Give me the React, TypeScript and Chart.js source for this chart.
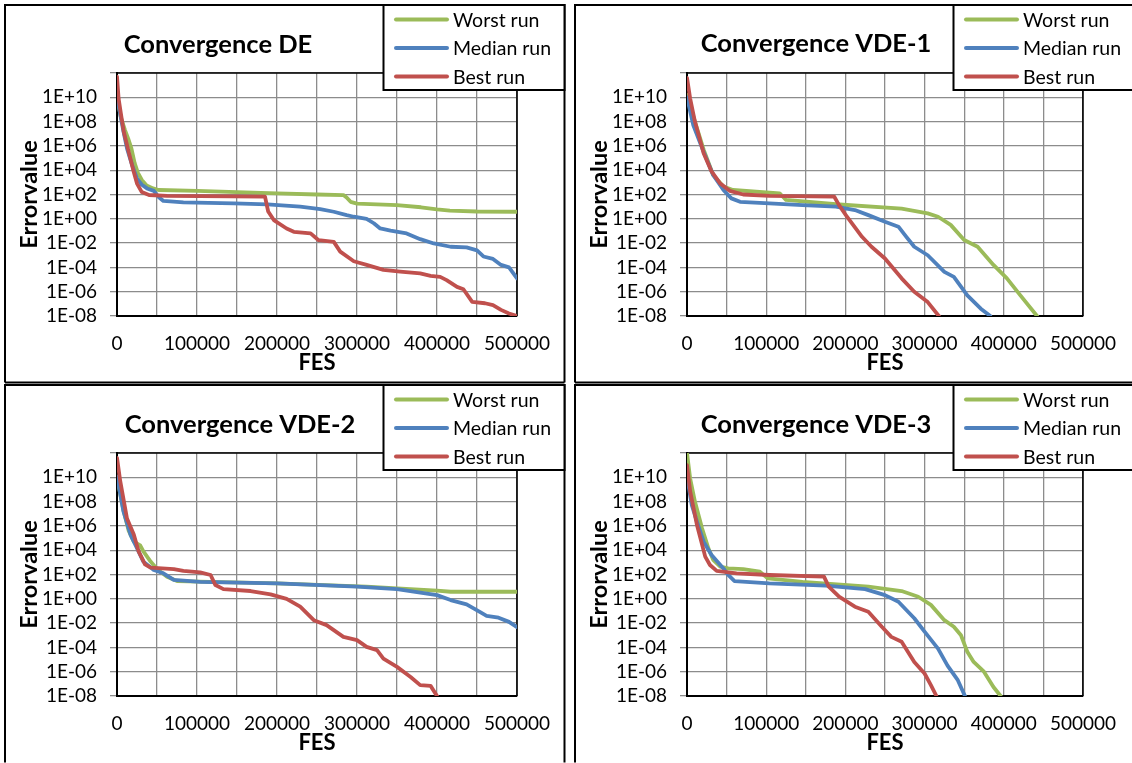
import React, { useEffect, useRef } from 'react';
import { Chart, registerables } from 'chart.js';

Chart.register(...registerables);

// ---------- labels & ticks ----------
const SERIES_LABELS = ['Worst run', 'Median run', 'Best run'];
const SERIES_COLORS = ['#9BBB59', '#4F81BD', '#C0504D'];
const X_TICK_VALUES = [0, 50000, 100000, 150000, 200000, 250000, 300000, 350000, 400000, 450000, 500000];
const X_TICK_LABELS = ['0', '', '100000', '', '200000', '', '300000', '', '400000', '', '500000'];
const Y_TICK_VALUES = [1e-8, 1e-6, 1e-4, 1e-2, 1, 1e2, 1e4, 1e6, 1e8, 1e10, 1e12];
const Y_TICK_LABELS = ['1E-08', '1E-06', '1E-04', '1E-02', '1E+00', '1E+02', '1E+04', '1E+06', '1E+08', '1E+10', ''];
const X_TITLE = 'FES';
const Y_TITLE = 'Errorvalue';

// ---------- Convergence DE ----------
const DE_WORST_FES = [0, 5000, 10000, 14000, 18000, 22000, 26000, 31000, 37000, 45000, 52000, 100000, 150000, 200000, 250000, 283000, 287000, 292000, 300000, 350000, 380000, 400000, 416000, 450000, 500000];
const DE_WORST_ERR = [1e10, 2e8, 2e7, 4e6, 6.3e5, 4e4, 6.3e3, 1.6e3, 560, 316, 234, 200, 158, 126, 100, 89, 56, 25, 17.8, 13.5, 8.9, 6.0, 4.7, 4.0, 3.8];
const DE_MEDIAN_FES = [0, 4000, 8000, 12500, 19000, 25000, 31000, 37500, 46000, 52000, 58000, 83000, 146000, 188000, 229000, 254000, 271000, 287000, 296000, 312000, 321000, 329000, 342000, 362000, 379000, 396000, 417000, 437000, 450000, 458000, 470000, 480000, 490000, 500000];
const DE_MEDIAN_ERR = [1.26e10, 4e8, 1.6e7, 6.3e5, 2.5e4, 2e3, 630, 316, 200, 63, 29.5, 22.4, 18.6, 15.5, 10, 6.3, 3.8, 2.0, 1.48, 1.0, 0.43, 0.16, 0.105, 0.063, 0.021, 0.0093, 0.005, 0.0044, 0.0025, 7.9e-4, 5e-4, 1.6e-4, 1e-4, 1.26e-5];
const DE_BEST_FES = [0, 2000, 5000, 8300, 14600, 20800, 25000, 31000, 40000, 62500, 185000, 189000, 196000, 212000, 221000, 242000, 252000, 271000, 279000, 296000, 312000, 333000, 354000, 379000, 392000, 404000, 412000, 425000, 433000, 444000, 460000, 470000, 480000, 490000, 500000];
const DE_BEST_ERR = [5e11, 7.9e9, 4e8, 1.6e7, 3.2e5, 7.9e3, 790, 158, 91, 76, 66, 4.0, 0.79, 0.158, 0.085, 0.063, 0.0174, 0.0126, 2e-3, 3.2e-4, 1.6e-4, 6.3e-5, 4.5e-5, 3.2e-5, 2e-5, 1.66e-5, 8.9e-6, 2.5e-6, 1.6e-6, 1.45e-7, 1.12e-7, 7.9e-8, 3.2e-8, 1.6e-8, 1e-8];

// ---------- Convergence VDE-1 ----------
const V1_WORST_FES = [0, 10000, 21000, 33000, 46000, 58000, 117000, 125000, 188000, 271000, 304000, 317000, 333000, 350000, 367000, 387000, 404000, 421000, 442000];
const V1_WORST_ERR = [1.6e10, 1e8, 5e5, 4e3, 447, 234, 126, 35.5, 15.8, 6.8, 2.8, 1.48, 0.316, 0.0178, 0.005, 1.6e-4, 1.26e-5, 5e-7, 1e-8];
const V1_MEDIAN_FES = [0, 8000, 21000, 33000, 46000, 56000, 67000, 104000, 146000, 188000, 212000, 229000, 250000, 267000, 277000, 287000, 304000, 325000, 337000, 354000, 371000, 383000];
const V1_MEDIAN_ERR = [1e10, 5e7, 3.2e5, 4e3, 234, 48, 25, 18.6, 13.5, 10, 5.25, 2.0, 0.575, 0.224, 0.033, 0.005, 1e-3, 4.3e-5, 1.66e-5, 5e-7, 4e-8, 1e-8];
const V1_BEST_FES = [0, 4000, 10000, 21000, 31000, 42000, 54000, 71000, 104000, 186000, 192000, 202000, 221000, 233000, 250000, 271000, 287000, 304000, 318000];
const V1_BEST_ERR = [4e11, 7.9e9, 1e8, 2.5e5, 7.9e3, 790, 200, 100, 76, 66, 13.5, 1.48, 0.033, 0.005, 5.4e-4, 1.26e-5, 1e-6, 1.4e-7, 1e-8];

// ---------- Convergence VDE-2 ----------
const V2_WORST_FES = [0, 8000, 14600, 21000, 29000, 33000, 42000, 50000, 62500, 75000, 200000, 312000, 400000, 417000, 500000];
const V2_WORST_ERR = [1e10, 2e7, 4e5, 5e4, 2.5e4, 7.9e3, 1.15e3, 282, 66, 29, 18.6, 10, 4.7, 3.8, 3.8];
const V2_MEDIAN_FES = [0, 8000, 17000, 25000, 33000, 46000, 58000, 71000, 104000, 200000, 300000, 350000, 400000, 417000, 437000, 454000, 462000, 477000, 490000, 500000];
const V2_MEDIAN_ERR = [1.2e10, 1.6e7, 1.8e5, 1.45e4, 1.15e3, 234, 126, 35.5, 25, 18.6, 10, 6.3, 2.0, 0.79, 0.35, 0.079, 0.04, 0.028, 0.0126, 4.7e-3];
const V2_BEST_FES = [0, 4000, 12500, 21000, 27000, 35000, 42000, 71000, 83000, 104000, 117000, 123000, 133000, 167000, 192000, 212000, 229000, 246000, 262000, 283000, 300000, 312000, 325000, 333000, 350000, 367000, 379000, 392000, 400000];
const V2_BEST_ERR = [4e11, 5e9, 4e6, 2e5, 7.9e3, 692, 363, 282, 200, 151, 91, 13.5, 6.3, 4.37, 2.29, 1.0, 0.224, 0.0174, 6.8e-3, 7.4e-4, 4e-4, 1.1e-4, 5.9e-5, 1.2e-5, 2.5e-6, 3.7e-7, 7.9e-8, 6.8e-8, 1e-8];

// ---------- Convergence VDE-3 ----------
const V3_WORST_FES = [0, 4000, 10000, 19000, 27000, 33000, 42000, 52000, 71000, 92000, 102000, 146000, 229000, 271000, 292000, 308000, 325000, 337000, 346000, 354000, 362000, 375000, 387000, 396000];
const V3_WORST_ERR = [1e12, 7.9e9, 1e8, 6.3e5, 1.45e4, 1.6e3, 447, 316, 282, 170, 48, 25, 10, 4.37, 1.48, 0.316, 0.0174, 0.005, 1e-3, 4.3e-5, 6.3e-6, 1e-6, 5.5e-8, 1e-8];
const V3_MEDIAN_FES = [0, 6000, 12500, 21000, 31000, 46000, 52000, 60000, 104000, 175000, 225000, 250000, 267000, 287000, 300000, 317000, 329000, 342000, 351000];
const V3_MEDIAN_ERR = [1.2e10, 5.4e7, 2.3e6, 5e4, 4e3, 316, 91, 29, 18.6, 12, 6.3, 2.0, 0.575, 0.025, 2e-3, 7.9e-5, 3.2e-6, 2e-7, 1e-8];
const V3_BEST_FES = [0, 4000, 12500, 23000, 29000, 37500, 62500, 104000, 173000, 179000, 192000, 212000, 229000, 246000, 258000, 271000, 287000, 300000, 308000, 315000];
const V3_BEST_ERR = [1e11, 6.9e8, 1.26e6, 2.95e3, 603, 200, 126, 91, 66, 10, 1.48, 0.224, 0.085, 5e-3, 7.4e-4, 2.9e-4, 6.3e-6, 7.1e-7, 7.9e-8, 1e-8];

// ---------- layout (positions / styles only) ----------
const FONT = 'Lato, "Open Sans", "DejaVu Sans", sans-serif';
const CANVAS_H = 384;
const PLOT_LEFT = 117;
const PLOT_TOP = 73;
const PLOT_RIGHT = 517;
const PLOT_BOTTOM = 316;

type Series = { fes: number[]; err: number[] };
type PanelDef = {
  title: string;
  left: number;
  top: number;
  width: number;
  titleX: number;
  titleY: number;
  rightBorder: boolean;
  bottomBorder: boolean;
  series: Series[];
};

const PANELS: PanelDef[] = [
  {
    title: 'Convergence DE', left: 0, top: 0, width: 570, titleX: 218, titleY: 45, rightBorder: true, bottomBorder: true,
    series: [
      { fes: DE_WORST_FES, err: DE_WORST_ERR },
      { fes: DE_MEDIAN_FES, err: DE_MEDIAN_ERR },
      { fes: DE_BEST_FES, err: DE_BEST_ERR },
    ],
  },
  {
    title: 'Convergence VDE-1', left: 570, top: 0, width: 562, titleX: 246, titleY: 44, rightBorder: false, bottomBorder: true,
    series: [
      { fes: V1_WORST_FES, err: V1_WORST_ERR },
      { fes: V1_MEDIAN_FES, err: V1_MEDIAN_ERR },
      { fes: V1_BEST_FES, err: V1_BEST_ERR },
    ],
  },
  {
    title: 'Convergence VDE-2', left: 0, top: 380, width: 570, titleX: 240, titleY: 45, rightBorder: true, bottomBorder: false,
    series: [
      { fes: V2_WORST_FES, err: V2_WORST_ERR },
      { fes: V2_MEDIAN_FES, err: V2_MEDIAN_ERR },
      { fes: V2_BEST_FES, err: V2_BEST_ERR },
    ],
  },
  {
    title: 'Convergence VDE-3', left: 570, top: 380, width: 562, titleX: 246, titleY: 45, rightBorder: false, bottomBorder: false,
    series: [
      { fes: V3_WORST_FES, err: V3_WORST_ERR },
      { fes: V3_MEDIAN_FES, err: V3_MEDIAN_ERR },
      { fes: V3_BEST_FES, err: V3_BEST_ERR },
    ],
  },
];

function decorPlugin(p: PanelDef) {
  return {
    id: 'decor',
    beforeDraw(chart: any) {
      const ctx = chart.ctx as CanvasRenderingContext2D;
      ctx.save();
      ctx.strokeStyle = '#000';
      ctx.lineWidth = 2;
      ctx.beginPath();
      ctx.moveTo(5, 382.5);
      ctx.lineTo(5, 5);
      ctx.lineTo(564.5, 5);
      if (p.rightBorder) ctx.lineTo(564.5, 382.5);
      ctx.stroke();
      if (p.bottomBorder) {
        ctx.beginPath();
        ctx.moveTo(5, 382.5);
        ctx.lineTo(564.5, 382.5);
        ctx.stroke();
      }
      ctx.restore();
    },
    beforeDatasetsDraw(chart: any) {
      const ctx = chart.ctx as CanvasRenderingContext2D;
      const a = chart.chartArea;
      ctx.save();
      ctx.strokeStyle = '#000';
      ctx.lineWidth = 1.6;
      ctx.beginPath();
      ctx.moveTo(a.left, a.top);
      ctx.lineTo(a.right, a.top);
      ctx.lineTo(a.right, a.bottom);
      ctx.stroke();
      ctx.restore();
    },
    afterDraw(chart: any) {
      const ctx = chart.ctx as CanvasRenderingContext2D;
      ctx.save();
      // title
      ctx.fillStyle = '#000';
      ctx.font = `bold 25.5px ${FONT}`;
      ctx.textAlign = 'center';
      ctx.textBaseline = 'middle';
      ctx.fillText(p.title, p.titleX, p.titleY);
      // legend box
      ctx.fillStyle = '#fff';
      ctx.fillRect(383.5, 5, 181, 85);
      ctx.strokeStyle = '#000';
      ctx.lineWidth = 2;
      ctx.strokeRect(383.5, 5, 181, 85);
      const ys = [19.5, 48, 76.5];
      chart.data.datasets.forEach((ds: any, i: number) => {
        const y = ys[i];
        ctx.strokeStyle = ds.borderColor;
        ctx.lineWidth = 4;
        ctx.lineCap = 'round';
        ctx.beginPath();
        ctx.moveTo(396, y);
        ctx.lineTo(447, y);
        ctx.stroke();
        ctx.fillStyle = '#000';
        ctx.font = `19.5px ${FONT}`;
        ctx.textAlign = 'left';
        ctx.textBaseline = 'middle';
        ctx.fillText(ds.label, 453, y + 1);
      });
      ctx.restore();
    },
  };
}

function Panel({ p }: { p: PanelDef }) {
  const ref = useRef<HTMLCanvasElement>(null);
  useEffect(() => {
    const canvas = ref.current;
    if (!canvas) return;
    const datasets = p.series.map((s, i) => ({
      label: SERIES_LABELS[i],
      data: s.fes.map((x, k) => ({ x, y: s.err[k] })),
      borderColor: SERIES_COLORS[i],
      backgroundColor: SERIES_COLORS[i],
      borderWidth: 3.8,
      pointRadius: 0,
      tension: 0,
      borderJoinStyle: 'round' as const,
      borderCapStyle: 'round' as const,
      order: 3 - i,
    }));
    const chart = new Chart(canvas, {
      type: 'line',
      data: { datasets },
      options: {
        animation: false,
        responsive: false,
        devicePixelRatio: 1,
        layout: { padding: { left: 0, top: PLOT_TOP, right: p.width - PLOT_RIGHT, bottom: 0 } },
        plugins: { legend: { display: false }, title: { display: false }, tooltip: { enabled: false } },
        scales: {
          x: {
            type: 'linear',
            min: 0,
            max: 500000,
            afterFit: (s: any) => { s.height = CANVAS_H - PLOT_BOTTOM; },
            afterBuildTicks: (s: any) => { s.ticks = X_TICK_VALUES.map((v) => ({ value: v })); },
            ticks: {
              autoSkip: false,
              maxRotation: 0,
              padding: 16,
              color: '#000',
              font: { family: FONT, size: 19 },
              callback: (_v: any, i: number) => X_TICK_LABELS[i],
            },
            grid: { color: '#8c8c8c', lineWidth: 1.3, drawTicks: false },
            border: { display: true, color: '#000', width: 2 },
            title: {
              display: true,
              text: X_TITLE,
              color: '#000',
              font: { family: FONT, size: 22, weight: 'bold' },
              padding: { top: 0, bottom: 8 },
            },
          },
          y: {
            type: 'logarithmic',
            min: 1e-8,
            max: 1e12,
            afterFit: (s: any) => { s.width = PLOT_LEFT; },
            afterBuildTicks: (s: any) => { s.ticks = Y_TICK_VALUES.map((v) => ({ value: v })); },
            ticks: {
              autoSkip: false,
              padding: 13,
              color: '#000',
              font: { family: FONT, size: 19 },
              callback: (_v: any, i: number) => Y_TICK_LABELS[i],
            },
            grid: { color: '#8c8c8c', lineWidth: 1.3, drawTicks: true, tickLength: 7 },
            border: { display: true, color: '#000', width: 2 },
            title: {
              display: true,
              text: Y_TITLE,
              color: '#000',
              font: { family: FONT, size: 23.5, weight: 'bold' },
              padding: { top: 15, bottom: 0 },
            },
          },
        },
      } as any,
      plugins: [decorPlugin(p)],
    });
    return () => chart.destroy();
  }, [p]);
  return (
    <canvas
      ref={ref}
      width={p.width}
      height={CANVAS_H}
      style={{ position: 'absolute', left: p.left, top: p.top, width: p.width, height: CANVAS_H, display: 'block' }}
    />
  );
}

export default function App() {
  return (
    <div style={{ position: 'fixed', left: 0, top: 0, width: 1132, height: 763, overflow: 'hidden', background: '#fff' }}>
      {PANELS.map((p) => (
        <Panel key={p.title} p={p} />
      ))}
    </div>
  );
}
